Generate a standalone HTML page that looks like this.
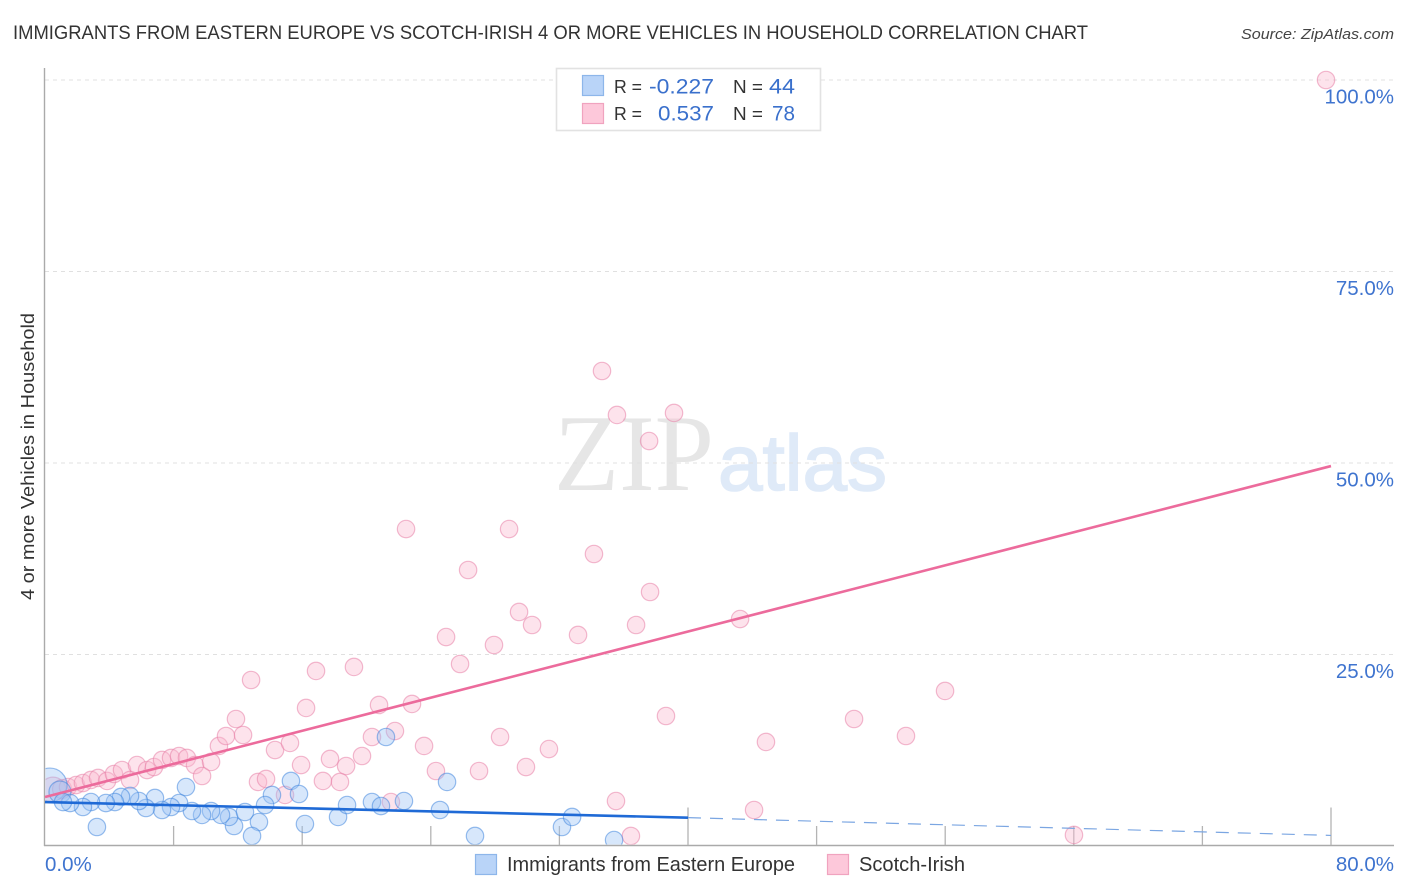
<!DOCTYPE html>
<html lang="en">
<head>
<meta charset="utf-8">
<title>Immigrants from Eastern Europe vs Scotch-Irish correlation chart</title>
<style>
html,body{margin:0;padding:0;background:#fff}
svg{display:block}
text{font-family:"Liberation Sans",sans-serif}
</style>
</head>
<body>
<svg id="chart" xmlns="http://www.w3.org/2000/svg" width="1406" height="892" viewBox="0 0 1406 892">
  <defs><clipPath id="plot-clip"><rect x="45.5" y="60" width="1300" height="784.5"/></clipPath></defs>
  <rect x="0" y="0" width="1406" height="892" fill="#fff"/>
  <text x="13" y="39" font-size="19.5" fill="#333" textLength="1075" lengthAdjust="spacingAndGlyphs">IMMIGRANTS FROM EASTERN EUROPE VS SCOTCH-IRISH 4 OR MORE VEHICLES IN HOUSEHOLD CORRELATION CHART</text>
  <text x="1241" y="39" font-size="15" font-style="italic" fill="#444" textLength="153" lengthAdjust="spacingAndGlyphs">Source: ZipAtlas.com</text>
  <g id="watermark">
    <text x="554" y="490" font-size="109" fill="#e6e6e6" textLength="160" lengthAdjust="spacingAndGlyphs" style="font-family:'Liberation Serif',serif">ZIP</text>
    <text x="718" y="490" font-size="79" fill="#dfeaf8" stroke="#dfeaf8" stroke-width="1.6" textLength="169" lengthAdjust="spacingAndGlyphs">atlas</text>
  </g>
  <g id="grid"></g>
  <g id="axes"></g>
  <g id="points" clip-path="url(#plot-clip)"></g>
  <g id="trends"></g>
  <g id="labels"></g>
  <text transform="translate(34,600) rotate(-90)" x="0" y="0" font-size="18.5" fill="#333" textLength="287" lengthAdjust="spacingAndGlyphs">4 or more Vehicles in Household</text>

  <g>
    <rect x="556.5" y="68.5" width="264" height="62" fill="#fff" stroke="#e2e2e2" stroke-width="1.6"/>
    <rect x="582.5" y="75.5" width="21" height="20" fill="#b9d4f8" stroke="#8db6ea" stroke-width="1.2"/>
    <rect x="582.5" y="103.5" width="21" height="20" fill="#fdc8da" stroke="#f0a3bf" stroke-width="1.2"/>
    <text x="614" y="93" font-size="18.5" fill="#333" textLength="28" lengthAdjust="spacingAndGlyphs">R =</text>
    <text x="649" y="93.5" font-size="21" fill="#3a70cc" textLength="65" lengthAdjust="spacingAndGlyphs">-0.227</text>
    <text x="733" y="93" font-size="18.5" fill="#333" textLength="30" lengthAdjust="spacingAndGlyphs">N =</text>
    <text x="769" y="93.5" font-size="21" fill="#3a70cc" textLength="26" lengthAdjust="spacingAndGlyphs">44</text>
    <text x="614" y="120" font-size="18.5" fill="#333" textLength="28" lengthAdjust="spacingAndGlyphs">R =</text>
    <text x="658" y="120.5" font-size="21" fill="#3a70cc" textLength="56" lengthAdjust="spacingAndGlyphs">0.537</text>
    <text x="733" y="120" font-size="18.5" fill="#333" textLength="30" lengthAdjust="spacingAndGlyphs">N =</text>
    <text x="772" y="120.5" font-size="21" fill="#3a70cc" textLength="23" lengthAdjust="spacingAndGlyphs">78</text>
  </g>

  <g>
    <rect x="475.5" y="854.5" width="21" height="20" fill="#b9d4f8" stroke="#8db6ea" stroke-width="1.2"/>
    <text x="507" y="871" font-size="20" fill="#333" textLength="288" lengthAdjust="spacingAndGlyphs">Immigrants from Eastern Europe</text>
    <rect x="827.5" y="854.5" width="21" height="20" fill="#fdc8da" stroke="#f0a3bf" stroke-width="1.2"/>
    <text x="859" y="871" font-size="20" fill="#333" textLength="106" lengthAdjust="spacingAndGlyphs">Scotch-Irish</text>
  </g>
</svg>
<script>
// Chart data (percent units)
const blueX = [0.31,0.93,3.23,8.77,15.30,15.80,14.12,13.69,13.31,16.17,12.88,11.76,11.45,10.95,10.33,9.77,9.14,12.44,8.34,7.84,7.28,6.84,6.28,5.85,5.29,4.73,4.35,3.79,2.86,2.36,1.56,1.12,18.23,18.79,21.21,25.01,20.34,20.90,22.33,24.57,26.75,32.16,32.79,35.40];
const blueY = [7.96,7.05,2.48,7.70,8.49,6.79,6.66,5.35,3.13,2.87,1.31,2.61,3.79,4.05,4.57,4.05,4.57,4.44,5.61,5.09,4.70,6.27,4.96,5.87,6.53,6.40,5.74,5.61,5.74,5.09,5.61,5.74,3.79,5.35,14.23,8.36,5.74,5.22,5.87,4.70,1.31,2.48,3.79,0.78];
const blueWeights = [3.8,1.6];
const pinkX = [0.50,1.06,1.43,1.93,2.36,2.86,3.30,3.86,4.29,4.79,5.29,5.72,6.35,6.78,7.28,7.84,8.34,8.83,9.33,9.77,10.33,10.82,11.26,12.32,11.88,16.24,13.25,13.75,14.31,15.24,15.93,14.93,17.73,18.73,17.29,18.35,34.65,35.58,39.13,37.58,22.46,28.87,34.15,26.32,37.64,29.49,30.30,36.77,33.16,43.24,24.95,27.93,25.82,19.22,16.86,12.82,55.99,22.83,20.78,50.33,38.63,21.77,20.34,53.56,28.31,44.85,23.58,31.35,19.72,29.92,24.32,27.00,35.52,44.11,21.52,36.45,64.01,79.69];
const pinkY = [7.31,7.44,7.70,7.96,8.22,8.62,8.88,8.49,9.40,9.92,8.62,10.57,9.92,10.31,11.23,11.49,11.75,11.49,10.57,9.14,10.97,13.06,14.36,14.49,16.58,18.02,8.36,8.75,12.53,13.45,10.57,6.66,11.36,10.44,8.49,8.36,62.01,56.27,56.53,52.87,41.38,41.38,38.12,36.03,33.16,30.55,28.85,28.85,27.55,29.63,27.28,26.24,23.76,23.37,22.85,21.67,20.24,18.54,18.41,16.58,16.97,15.01,14.23,14.36,14.23,13.58,13.06,12.66,11.75,10.31,9.79,9.79,5.87,4.70,5.74,1.31,1.44,100.0];
const pinkWeights = [2.2,1.2];
const blueTrendStart = [0, 5.74];
const blueTrendSolidEnd = [40, 3.70];
const blueTrendEnd = [80, 1.38];
const pinkTrendStart = [0, 6.40];
const pinkTrendEnd = [80, 49.60];
const yTickValues = [100, 75, 50, 25];
const yTickLabels = ["100.0%", "75.0%", "50.0%", "25.0%"];
const xTickValues = [0, 8, 16, 24, 32, 40, 48, 56, 64, 72, 80];
const xMajorTicks = [40, 80];
const xEdgeLabels = ["0.0%", "80.0%"];

const NS = "http://www.w3.org/2000/svg";
const xScale = v => 45 + v * 16.075;
const yScale = v => 846 - v * 7.66;
const BASE_R = 8.7;

function make(tag, parent, attrs) {
  const el = document.createElementNS(NS, tag);
  for (const k in attrs) el.setAttribute(k, attrs[k]);
  parent.appendChild(el);
  return el;
}

const grid = document.getElementById("grid");
yTickValues.forEach(v => {
  const el = make("line", grid, {x1: 45, x2: 1394, y1: yScale(v), y2: yScale(v), stroke: "#e0e0e0", "stroke-width": 1, "stroke-dasharray": "4 4"});
  
  
});

const axes = document.getElementById("axes");
const yAxis = make("line", axes, {x1: 44.5, x2: 44.5, y1: 68, y2: 846, stroke: "#aaa", "stroke-width": 1.4});


const xAxis = make("line", axes, {x1: 44, x2: 1394, y1: 845.5, y2: 845.5, stroke: "#aaa", "stroke-width": 1.4});


xTickValues.slice(1).forEach(v => {
  const top = xMajorTicks.includes(v) ? 807.5 : 826;
  const el = make("line", axes, {x1: xScale(v), x2: xScale(v), y1: top, y2: 845, stroke: "#b4b4b4", "stroke-width": 1.3});
  
  
});

const points = document.getElementById("points");
function drawSeries(xs, ys, weights, fill, stroke, name) {
  xs.forEach((x, i) => {
    const r = BASE_R * Math.sqrt(weights[i] || 1);
    const c = make("circle", points, {cx: xScale(x), cy: yScale(ys[i]), r: r, fill: fill, stroke: stroke, "stroke-width": 1.2});
    
    
  });
}
drawSeries(pinkX, pinkY, pinkWeights, "rgba(251,185,207,0.4)", "rgba(232,130,168,0.55)", "scotch-irish-point");
drawSeries(blueX, blueY, blueWeights, "rgba(155,196,244,0.4)", "rgba(60,130,220,0.52)", "immigrants-point");

const trends = document.getElementById("trends");
const pinkTrend = make("line", trends, {x1: xScale(pinkTrendStart[0]), y1: yScale(pinkTrendStart[1]), x2: xScale(pinkTrendEnd[0]), y2: yScale(pinkTrendEnd[1]), stroke: "#ec6b9c", "stroke-width": 2.6});


const blueSolid = make("line", trends, {x1: xScale(blueTrendStart[0]), y1: yScale(blueTrendStart[1]), x2: xScale(blueTrendSolidEnd[0]), y2: yScale(blueTrendSolidEnd[1]), stroke: "#1f6ad6", "stroke-width": 2.6});


const blueDash = make("line", trends, {x1: xScale(blueTrendSolidEnd[0]), y1: yScale(blueTrendSolidEnd[1]), x2: xScale(blueTrendEnd[0]), y2: yScale(blueTrendEnd[1]), stroke: "#7ba6e2", "stroke-width": 1.2, "stroke-dasharray": "13 9"});



const labels = document.getElementById("labels");
yTickValues.forEach((v, i) => {
  const t = make("text", labels, {x: 1394, y: yScale(v) + 23.5, "text-anchor": "end", "font-size": 20.5, fill: "#3f74cf"});
  t.textContent = yTickLabels[i];
  
  
});
const xLabelLeft = make("text", labels, {x: xScale(xTickValues[0]), y: 871, "font-size": 20.5, fill: "#3f74cf"});
xLabelLeft.textContent = xEdgeLabels[0];


const xLabelRight = make("text", labels, {x: 1394, y: 871, "text-anchor": "end", "font-size": 20.5, fill: "#3f74cf"});
xLabelRight.textContent = xEdgeLabels[1];


</script>
</body>
</html>
